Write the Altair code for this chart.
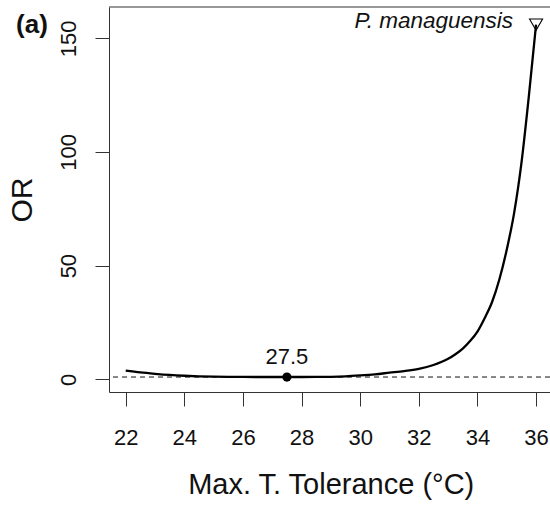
import altair as alt
import pandas as pd

# Values
temp = [22.0, 22.5, 23.0, 23.5, 24.0, 24.5, 25.0, 25.5, 26.0, 26.5, 27.0, 27.5,
        28.0, 28.5, 29.0, 29.5, 30.0, 30.5, 31.0, 31.5, 32.0, 32.5, 33.0, 33.25,
        33.5, 33.75, 34.0, 34.25, 34.5, 34.75, 35.0, 35.25, 35.5, 35.75, 36.0]
odds = [3.8, 3.0, 2.4, 1.9, 1.55, 1.3, 1.15, 1.07, 1.03, 1.01, 1.0, 1.0,
        1.0, 1.03, 1.1, 1.3, 1.7, 2.2, 2.9, 3.6, 4.6, 6.3, 9.0, 11.0,
        13.5, 16.8, 21.0, 27.0, 34.0, 44.0, 57.0, 73.0, 95.0, 124.0, 156.0]
opt_t = [27.5]
opt_or = [1.0]
opt_lab = ["27.5"]
sp_t = [36.0]
sp_or = [156.0]
sp_lab = ["P. managuensis"]
ref_or = [1.0]
x_ticks = [22, 24, 26, 28, 30, 32, 34, 36]
y_ticks = [0, 50, 100, 150]

FONT = "Liberation Sans"
W, H = 441, 385
xdom = [21.43, 21.43 + W / 29.31]
ydom = [-5.59, 163.77]

curve_df = pd.DataFrame({"t": temp, "or": odds})
opt_df = pd.DataFrame({"t": opt_t, "or": opt_or, "lab": opt_lab})
sp_df = pd.DataFrame({"t": sp_t, "or": sp_or, "lab": sp_lab})
ref_df = pd.DataFrame({"or": ref_or})

xs = alt.Scale(domain=xdom, nice=False, zero=False)
ys = alt.Scale(domain=ydom, nice=False, zero=False)

xax = alt.Axis(values=x_ticks, title="Max. T. Tolerance (°C)", grid=False,
               tickSize=14, labelPadding=21, labelFontSize=22, labelFont=FONT,
               titleFontSize=29, titleFont=FONT, titleFontWeight="normal",
               titleBaseline="alphabetic", titleY=101, titleX=221.7,
               titleAlign="center", labelFlush=False)
yax = alt.Axis(values=y_ticks, title="OR", grid=False, tickSize=14,
               labelAngle=270, labelAlign="center", labelBaseline="alphabetic",
               labelPadding=20, labelFontSize=22, labelFont=FONT,
               titleFontSize=30, titleFont=FONT, titleFontWeight="normal",
               titleAngle=270, titleBaseline="alphabetic", titleAlign="center",
               titleX=-78, titleY=192.5, labelFlush=False)

base = alt.Chart(curve_df)

curve = base.mark_line(color="black", strokeWidth=2.3, interpolate="monotone").encode(
    x=alt.X("t:Q", scale=xs, axis=xax),
    y=alt.Y("or:Q", scale=ys, axis=yax),
)

ref = alt.Chart(ref_df).mark_rule(color="#111", strokeWidth=1, strokeDash=[5, 4]).encode(
    y=alt.Y("or:Q", scale=ys)
)

top_border = alt.Chart(ref_df).mark_rule(color="#333", strokeWidth=1).encode(
    x=alt.value(0), x2=alt.value(W), y=alt.value(0)
)

pt = alt.Chart(opt_df).mark_circle(color="black", size=85, opacity=1).encode(
    x=alt.X("t:Q", scale=xs), y=alt.Y("or:Q", scale=ys)
)
pt_lab = alt.Chart(opt_df).mark_text(fontSize=22, font=FONT, color="#111", dy=-13,
                                     baseline="alphabetic", align="center").encode(
    x=alt.X("t:Q", scale=xs), y=alt.Y("or:Q", scale=ys), text="lab:N"
)

tri = alt.Chart(sp_df).mark_point(shape="triangle-down", filled=False, size=170,
                                  color="black", strokeWidth=1.1, opacity=1).encode(
    x=alt.X("t:Q", scale=xs), y=alt.Y("or:Q", scale=ys)
)
tri_lab = alt.Chart(sp_df).mark_text(fontSize=22.5, font=FONT, fontStyle="italic",
                                     color="#111", align="right", baseline="alphabetic",
                                     dx=-23, dy=3).encode(
    x=alt.X("t:Q", scale=xs), y=alt.Y("or:Q", scale=ys), text="lab:N"
)

panel = alt.Chart(pd.DataFrame({"lab": ["(a)"]})).mark_text(
    fontSize=26, font=FONT, fontWeight="bold", color="#111",
    align="center", baseline="alphabetic"
).encode(x=alt.value(-77), y=alt.value(26.3), text="lab:N")

chart = alt.layer(ref, curve, top_border, pt, pt_lab, tri, tri_lab, panel).properties(
    width=W, height=H,
    autosize="none",
    padding={"left": 109, "top": 7, "right": 0, "bottom": 113},
    background="white",
).configure_view(stroke=None).configure_axis(
    domainColor="#333", tickColor="#333", labelColor="#111", titleColor="#111",
    domainWidth=1, tickWidth=1
)

chart.save("out.html", embed_options={"renderer": "svg", "actions": False})
